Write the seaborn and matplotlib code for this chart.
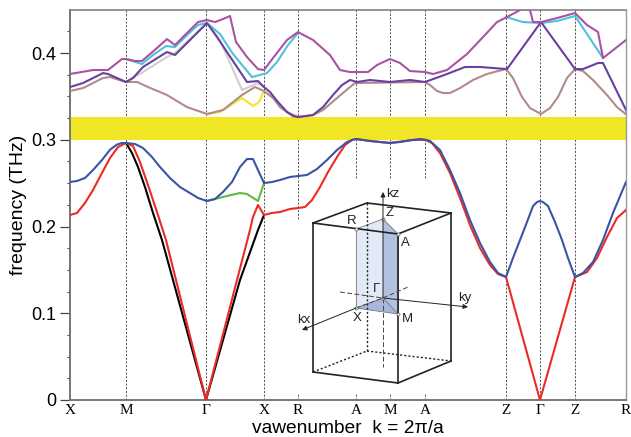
import matplotlib
matplotlib.use('Agg')
import matplotlib.pyplot as plt
import seaborn as sns
import pandas as pd
from matplotlib.patches import Polygon
from matplotlib.ticker import MultipleLocator, FuncFormatter

plt.rcParams['font.family'] = 'Liberation Sans'
plt.rcParams['lines.solid_joinstyle'] = 'round'

# posiciones de los puntos de simetria sobre el camino k
sym_labels = ['X', 'M', 'Γ', 'X', 'R', 'A', 'M', 'A', 'Z', 'Γ', 'Z', 'R']
sym_k = [0, 56, 136, 194, 228, 286, 320, 355, 436, 470, 505, 556]
# hasta donde baja cada linea vertical (frecuencia)
sym_stop = [0, 0, 0, 0, 0.209, 0.256, 0.256, 0.256, 0, 0, 0, 0]

# bandas acusticas
blue_k = [0, 7, 15, 23, 32, 40, 47, 52, 56, 65, 73, 82, 90, 100, 110, 120, 128, 137, 145, 153, 162, 170, 177, 183, 188, 194, 202, 210, 220, 228, 237, 247, 257, 267, 277, 282, 286, 300, 310, 320, 330, 342, 350, 355, 360, 370, 380, 390, 400, 410, 420, 428, 436, 443, 450, 457, 463, 467, 470, 473, 478, 485, 492, 498, 505, 513, 523, 533, 543, 556]
blue_f = [.2513, .2525, .2559, .2651, .2767, .2885, .2945, .2963, .2963, .2951, .2905, .2801, .2686, .2559, .2455, .2386, .2329, .2294, .2317, .2398, .2513, .2686, .2778, .2778, .2651, .2501, .2513, .2536, .2571, .2582, .2594, .2663, .2767, .2882, .2974, .2997, .3009, .2986, .2974, .2963, .2974, .2997, .3009, .3000, .2986, .2882, .2651, .2386, .2075, .1810, .1591, .1464, .1418, .1637, .1844, .2052, .2236, .2282, .2294, .2282, .2236, .2052, .1844, .1637, .1418, .1464, .1591, .1844, .2156, .2513]

red_k = [0, 7, 15, 23, 32, 40, 48, 56, 63, 70, 78, 87, 96, 136, 167, 180, 183, 188, 194, 202, 210, 220, 228, 235, 242, 250, 258, 267, 275, 282, 286, 300, 320, 342, 355, 362, 370, 380, 390, 400, 410, 420, 428, 436, 470, 505, 517, 527, 537, 547, 556]
red_f = [.2133, .2156, .2271, .2421, .2617, .2790, .2916, .2963, .2928, .2744, .2478, .2167, .1844, 0, .1383, .1960, .2110, .2248, .2133, .2156, .2167, .2202, .2213, .2225, .2305, .2455, .2628, .2801, .2939, .2997, .3009, .2986, .2963, .2997, .3000, .2963, .2847, .2617, .2329, .2017, .1752, .1556, .1452, .1418, 0, .1418, .1475, .1637, .1879, .2098, .2190]

black_k = [56, 62, 68, 75, 83, 92, 136, 170, 188, 194]
black_f = [.2963, .2847, .2686, .2455, .2156, .1844, 0, .1383, .1960, .2133]

green_k = [136, 145, 157, 170, 177, 188, 194]
green_f = [.2294, .2317, .2352, .2386, .2375, .2294, .2501]

# bandas superiores
magenta_k = [0, 23, 38, 52, 56, 65, 72, 87, 97, 105, 117, 128, 137, 145, 153, 160, 166, 177, 188, 194, 203, 217, 228, 243, 260, 270, 280, 298, 307, 320, 330, 340, 355, 363, 377, 397, 413, 427, 437, 452, 460, 463, 471, 487, 505, 517, 528, 533, 556]
magenta_f = [.3758, .3804, .3804, .3931, .3931, .3908, .3908, .4058, .4161, .4092, .4231, .4357, .4380, .4357, .4392, .4427, .4127, .3954, .3815, .3804, .3942, .4150, .4242, .4150, .3977, .3804, .3781, .3781, .3862, .3931, .3885, .3792, .3781, .3758, .3804, .3989, .4184, .4357, .4415, .4507, .4496, .4357, .4357, .4403, .4461, .4323, .4242, .3942, .4150]

cyan1_k = [56, 72, 83, 96, 105, 117, 128, 137, 150, 163, 182, 197, 207, 218, 228]
cyan1_f = [.3931, .3873, .3977, .4081, .4069, .4207, .4323, .4346, .4219, .3989, .3723, .3769, .3896, .4092, .4231]
cyan2_k = [436, 453, 471, 487, 505, 533]
cyan2_f = [.4415, .4357, .4346, .4369, .4427, .3942]

purple_k = [0, 13, 33, 38, 56, 63, 73, 97, 105, 117, 137, 147, 177, 188, 194, 200, 208, 217, 223, 228, 243, 253, 263, 272, 280, 287, 300, 320, 340, 355, 377, 395, 410, 437, 471, 505, 513, 528, 533, 557]
purple_f = [.3608, .3654, .3769, .3758, .3666, .3712, .3839, .4012, .3977, .4115, .4346, .4184, .3666, .3677, .3608, .3550, .3435, .3320, .3274, .3262, .3285, .3377, .3516, .3631, .3689, .3666, .3689, .3666, .3689, .3666, .3758, .3839, .3839, .3815, .4357, .3815, .3815, .3885, .3885, .3320]

mauve_k = [0, 13, 33, 40, 56, 67, 78, 97, 117, 137, 153, 172, 185, 194, 203, 210, 217, 228, 243, 253, 267, 280, 285, 355, 360, 367, 373, 380, 390, 403, 417, 428, 436, 443, 452, 460, 471, 480, 488, 497, 505, 513, 523, 537, 547, 557]
mauve_f = [.3562, .3596, .3712, .3723, .3666, .3666, .3608, .3516, .3377, .3297, .3343, .3516, .3608, .3562, .3481, .3377, .3320, .3262, .3285, .3343, .3481, .3608, .3654, .3666, .3631, .3562, .3539, .3539, .3596, .3689, .3758, .3792, .3815, .3712, .3493, .3366, .3297, .3366, .3493, .3712, .3815, .3792, .3689, .3516, .3377, .3285]

grey_k = [56, 73, 97, 105, 137, 150, 172, 188, 194]
grey_f = [.3666, .3781, .3954, .4000, .4346, .4150, .3573, .3654, .3608]

yellow_k = [137, 150, 172, 183, 189, 194]
yellow_f = [.3297, .3320, .3481, .3389, .3435, .3562]

gap_low = 0.300
gap_high = 0.326

fig = plt.figure(figsize=(6.31, 4.37), dpi=100)
ax = fig.add_axes([70 / 631, 37 / 437, 556 / 631, 390 / 437])

# lineas verticales de simetria
for k, stop in zip(sym_k, sym_stop):
    ax.plot([k, k], [stop, 0.45], color='#555555', lw=0.7, ls=(0, (2.2, 1.6)), zorder=1)
    if stop > 0:
        ax.plot([k, k], [0, 0.008], color='#555555', lw=0.7, ls=(0, (2.2, 1.6)), zorder=1)

ax.axhspan(gap_low, gap_high, color='#f0e626', lw=0, zorder=2)


def banda(k, f, color):
    df = pd.DataFrame({'k': k, 'f': f})
    sns.lineplot(data=df, x='k', y='f', color=color, lw=1.5, sort=False, estimator=None, ax=ax, zorder=3)


banda(yellow_k, yellow_f, '#f0e626')
banda(grey_k, grey_f, '#cfcfcf')
banda(mauve_k, mauve_f, '#b28a8a')
banda(cyan1_k, cyan1_f, '#4cc3d9')
banda(cyan2_k, cyan2_f, '#4cc3d9')
banda(purple_k, purple_f, '#6a3fa0')
banda(magenta_k, magenta_f, '#aa52a3')
banda(black_k, black_f, '#000000')
banda(green_k, green_f, '#5cb947')
banda(red_k, red_f, '#ee2a24')
banda(blue_k, blue_f, '#3a55a5')

ax.set_xlim(0, 556)
ax.set_ylim(0, 0.4496)
ax.set_xticks(sym_k)
ax.set_xticklabels(sym_labels, family='Liberation Serif', fontsize=11)
ax.tick_params(axis='x', length=0, pad=3)
ax.yaxis.set_major_locator(MultipleLocator(0.1))
ax.yaxis.set_minor_locator(MultipleLocator(0.025))
ax.yaxis.set_major_formatter(FuncFormatter(lambda v, p: '0' if v == 0 else f'{v:.1f}'))
ax.tick_params(axis='y', which='major', length=7, width=0.9, color='#444444', labelsize=13, pad=3)
ax.tick_params(axis='y', which='minor', length=2.5, width=0.8, color='#444444')
ax.set_xlabel('vawenumber  k = 2π/a', fontsize=13.8, labelpad=2)
ax.set_ylabel('frequency (THz)', fontsize=14, labelpad=3)
for lado, ancho, col in [('left', 1.4, '#777777'), ('bottom', 1.4, '#777777'), ('top', 1.1, '#777777'), ('right', 1.0, '#999999')]:
    ax.spines[lado].set_linewidth(ancho)
    ax.spines[lado].set_color(col)

# esquema de la zona de Brillouin, en pixeles de la figura
ins = fig.add_axes([0, 0, 1, 1], facecolor='none')
ins.set_xlim(0, 631)
ins.set_ylim(437, 0)
ins.axis('off')

P = {'R': (356, 229), 'Z': (383, 219), 'A': (398, 234), 'G': (383, 298), 'X': (356, 308), 'M': (398, 314)}
ins.add_patch(Polygon([P['R'], P['Z'], P['G'], P['X']], fc='#e1eaf6', ec='none'))
ins.add_patch(Polygon([P['Z'], P['A'], P['M'], P['G']], fc='#b3c1e0', ec='none'))
ins.add_patch(Polygon([P['G'], P['X'], P['M']], fc='#a7b7da', ec='none'))
for a, b in [('R', 'X'), ('Z', 'R'), ('Z', 'A'), ('X', 'M'), ('G', 'M'), ('G', 'X'), ('A', 'M')]:
    ins.plot(*zip(P[a], P[b]), color='#777777', lw=0.6)

solid = [((313, 223), (367, 203)), ((367, 203), (451, 213)), ((451, 213), (398, 234)), ((398, 234), (313, 223)),
         ((313, 223), (313, 372)), ((398, 234), (398, 383)), ((451, 213), (451, 361)),
         ((313, 372), (398, 383)), ((398, 383), (451, 361))]
for a, b in solid:
    ins.plot(*zip(a, b), color='#222222', lw=1.2)
dotted = [((367, 203), (367, 351)), ((313, 372), (367, 351)), ((367, 351), (451, 361))]
for a, b in dotted:
    ins.plot(*zip(a, b), color='#222222', lw=1.0, ls=(0, (1.5, 1.5)))
dashed = [((383, 298), (383, 367)), ((340, 292), (383, 298)), ((383, 298), (408, 287)), ((356, 308), (383, 298))]
for a, b in dashed:
    ins.plot(*zip(a, b), color='#444444', lw=0.7, ls=(0, (5, 2.5)))
for ini, fin in [((383, 298), (383, 192)), ((383, 298), (468, 307)), ((356, 308), (302, 330))]:
    ins.annotate('', xy=fin, xytext=ini, arrowprops=dict(arrowstyle='-|>', color='#222222', lw=0.7, mutation_scale=7, shrinkA=0, shrinkB=0))
for (x, y) in P.values():
    ins.plot(x, y, 'o', ms=2.2, mfc='white', mec='#555555', mew=0.5)

etiquetas = [(352, 221, 'R'), (390, 213, 'Z'), (405, 243, 'A'), (377, 289, 'Γ'), (407, 319, 'M'), (357, 318, 'X')]
for x, y, s in etiquetas:
    ins.text(x, y, s, fontsize=9.5, ha='center', va='center', color='#222222')
ins.text(393, 194, 'kz', fontsize=9.5, ha='center', va='center', color='#222222')
ins.text(465, 298, 'ky', fontsize=9.5, ha='center', va='center', color='#222222')
ins.text(304, 320, 'kx', fontsize=9.5, ha='center', va='center', color='#222222')

plt.savefig('out.png', dpi=100)
plt.close()
